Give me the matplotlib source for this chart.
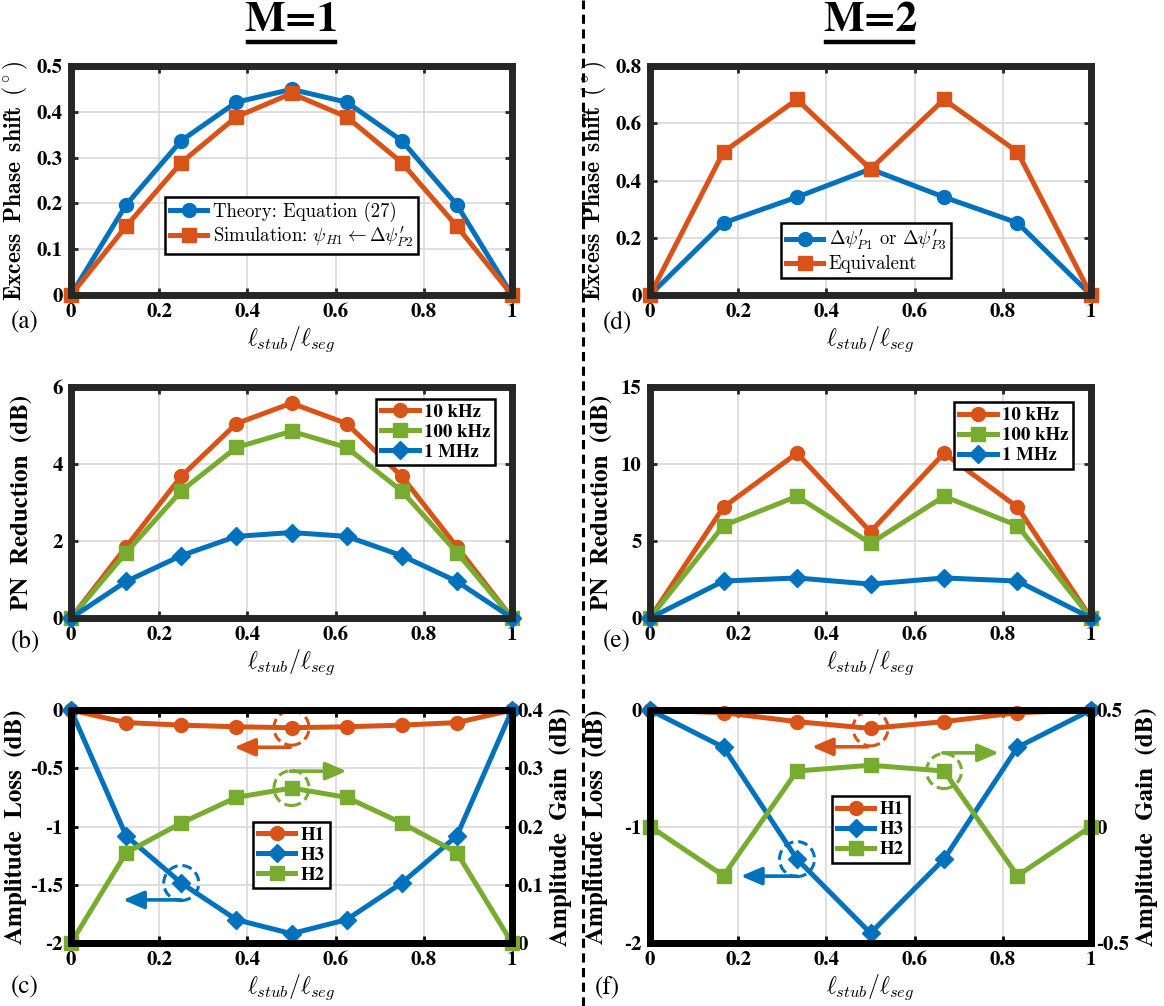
import matplotlib
matplotlib.use('Agg')
import matplotlib.pyplot as plt
from matplotlib.patches import Circle
from matplotlib.lines import Line2D
from matplotlib.transforms import ScaledTranslation

plt.rcParams['font.family'] = ['STIXGeneral', 'DejaVu Serif']
plt.rcParams['mathtext.fontset'] = 'cm'
plt.rcParams['axes.unicode_minus'] = False

BLUE = '#0072BD'
ORANGE = '#D95319'
GREEN = '#77AC30'
FRAME = '#262626'

# ---------------- data ----------------
x_m1 = [0, 0.125, 0.25, 0.375, 0.5, 0.625, 0.75, 0.875, 1]
x_m2 = [0, 0.1667, 0.3333, 0.5, 0.6667, 0.8333, 1]

# (a) excess phase shift, M=1
a_theory = [0, 0.197, 0.337, 0.421, 0.449, 0.421, 0.337, 0.197, 0]
a_sim = [0, 0.150, 0.289, 0.389, 0.440, 0.389, 0.289, 0.150, 0]
# (d) excess phase shift, M=2
d_p1 = [0, 0.252, 0.342, 0.440, 0.342, 0.252, 0]
d_equiv = [0, 0.500, 0.683, 0.440, 0.683, 0.500, 0]

# (b) PN reduction, M=1
b_10k = [0, 1.85, 3.68, 5.05, 5.58, 5.05, 3.68, 1.85, 0]
b_100k = [0, 1.70, 3.30, 4.43, 4.85, 4.43, 3.30, 1.70, 0]
b_1M = [0, 0.95, 1.62, 2.12, 2.22, 2.12, 1.62, 0.95, 0]
# (e) PN reduction, M=2
e_10k = [0, 7.2, 10.7, 5.6, 10.7, 7.2, 0]
e_100k = [0, 6.0, 7.9, 4.85, 7.9, 6.0, 0]
e_1M = [0, 2.4, 2.6, 2.2, 2.6, 2.4, 0]

# (c) amplitude, M=1
c_h1 = [0, -0.108, -0.130, -0.144, -0.152, -0.144, -0.130, -0.108, 0]
c_h3 = [0, -1.08, -1.485, -1.80, -1.92, -1.80, -1.485, -1.08, 0]
c_h2 = [0, 0.155, 0.206, 0.250, 0.266, 0.250, 0.206, 0.155, 0]
# (f) amplitude, M=2
f_h1 = [0, -0.023, -0.100, -0.158, -0.100, -0.023, 0]
f_h3 = [0, -0.32, -1.28, -1.915, -1.28, -0.32, 0]
f_h2 = [0, -0.211, 0.238, 0.263, 0.238, -0.211, 0]

xticks = [0, 0.2, 0.4, 0.6, 0.8, 1]
xticklabels = ['0', '0.2', '0.4', '0.6', '0.8', '1']
xlabel = r'$\ell_{stub}/\ell_{seg}$'

W, H = 1164, 1006
fig = plt.figure(figsize=(W / 100, H / 100), dpi=100)


def pos(l, r, t, b):
    return [l / W, 1 - b / H, (r - l) / W, (b - t) / H]


LW = 3.6
MS = 10
TICKFS = 15
YLFS = 17


def style(ax, frame=FRAME):
    for s in ax.spines.values():
        s.set_linewidth(5)
        s.set_color(frame)
    ax.tick_params(direction='in', top=True, right=True, length=5, width=2,
                   colors=frame, labelcolor='black', labelsize=TICKFS, pad=6)
    ax.grid(True, color='#d9d9d9', lw=1.2)
    ax.set_axisbelow(True)


def setx(ax):
    ax.set_xlim(0, 1)
    ax.set_xticks(xticks)
    ax.set_xticklabels(xticklabels)
    ax.set_xlabel(xlabel, fontsize=17, labelpad=2)


def boldlabels(ax):
    for lab in ax.get_xticklabels() + ax.get_yticklabels():
        lab.set_fontweight('bold')
        lab.set_fontsize(TICKFS)


def leg(ax, handles=None, labels=None, prop=None, **kw):
    if prop is None:
        prop = {'weight': 'bold', 'size': 13.5}
    args = [] if handles is None else [handles, labels]
    L = ax.legend(*args, prop=prop, fancybox=False, framealpha=1, edgecolor='black',
                  handlelength=2.0, handletextpad=0.3, borderpad=0.25,
                  labelspacing=0.15, borderaxespad=0, **kw)
    L.get_frame().set_linewidth(1.8)
    return L


CMPROP = {'family': 'cmr10', 'size': 13.5}
YL_PHASE = r'$\mathbf{Excess\ \,Phase\ \,shift\ \,(^\circ)}$'

# ---------------- (a) ----------------
ax = fig.add_axes(pos(71, 512, 66, 295))
ax.plot(x_m1, a_theory, '-o', color=BLUE, lw=LW, ms=MS, clip_on=False,
        label='Theory: Equation (27)')
ax.plot(x_m1, a_sim, '-s', color=ORANGE, lw=LW, ms=MS, clip_on=False,
        label=r"Simulation: $\psi_{H1} \leftarrow \Delta\psi^{\prime}_{P2}$")
ax.set_ylim(0, 0.5)
ax.set_yticks([0, 0.1, 0.2, 0.3, 0.4, 0.5])
ax.set_yticklabels(['0', '0.1', '0.2', '0.3', '0.4', '0.5'])
setx(ax)
style(ax)
boldlabels(ax)
ax.set_ylabel(YL_PHASE, fontsize=YLFS, labelpad=5)
leg(ax, prop=CMPROP, loc='lower center', bbox_to_anchor=(0.5, 0.18))

# ---------------- (d) ----------------
ax = fig.add_axes(pos(650, 1091, 66, 295))
ax.plot(x_m2, d_p1, '-o', color=BLUE, lw=LW, ms=MS, clip_on=False,
        label=r"$\Delta\psi^{\prime}_{P1}$ or $\Delta\psi^{\prime}_{P3}$")
ax.plot(x_m2, d_equiv, '-s', color=ORANGE, lw=LW, ms=MS, clip_on=False,
        label='Equivalent')
ax.set_ylim(0, 0.8)
ax.set_yticks([0, 0.2, 0.4, 0.6, 0.8])
ax.set_yticklabels(['0', '0.2', '0.4', '0.6', '0.8'])
setx(ax)
style(ax)
boldlabels(ax)
ax.set_ylabel(YL_PHASE, fontsize=YLFS, labelpad=5)
leg(ax, prop=CMPROP, loc='lower center', bbox_to_anchor=(0.49, 0.075))

# ---------------- (b) ----------------
ax = fig.add_axes(pos(71, 512, 387, 618))
ax.plot(x_m1, b_10k, '-o', color=ORANGE, lw=LW, ms=MS, clip_on=False, label='10 kHz')
ax.plot(x_m1, b_100k, '-s', color=GREEN, lw=LW, ms=MS, clip_on=False, label='100 kHz')
ax.plot(x_m1, b_1M, '-D', color=BLUE, lw=LW, ms=MS - 1, clip_on=False, label='1 MHz')
ax.set_ylim(0, 6)
ax.set_yticks([0, 2, 4, 6])
ax.set_yticklabels(['0', '2', '4', '6'])
setx(ax)
style(ax)
boldlabels(ax)
ax.set_ylabel('PN  Reduction  (dB)', fontsize=YLFS + 1, fontweight='bold', labelpad=14)
leg(ax, loc='upper right', bbox_to_anchor=(0.962, 0.948))

# ---------------- (e) ----------------
ax = fig.add_axes(pos(650, 1091, 387, 618))
ax.plot(x_m2, e_10k, '-o', color=ORANGE, lw=LW, ms=MS, clip_on=False, label='10 kHz')
ax.plot(x_m2, e_100k, '-s', color=GREEN, lw=LW, ms=MS, clip_on=False, label='100 kHz')
ax.plot(x_m2, e_1M, '-D', color=BLUE, lw=LW, ms=MS - 1, clip_on=False, label='1 MHz')
ax.set_ylim(0, 15)
ax.set_yticks([0, 5, 10, 15])
ax.set_yticklabels(['0', '5', '10', '15'])
setx(ax)
style(ax)
boldlabels(ax)
ax.set_ylabel('PN  Reduction  (dB)', fontsize=YLFS + 1, fontweight='bold', labelpad=6)
leg(ax, loc='upper right', bbox_to_anchor=(0.96, 0.933))


def dash_circle(ax, x, y, color, r=0.175):
    tr = fig.dpi_scale_trans + ScaledTranslation(x, y, ax.transData)
    c = Circle((0, 0), r, transform=tr, fill=False, ec=color, lw=2.2,
               ls=(0, (3.2, 1.6)), clip_on=False, zorder=10)
    ax.add_patch(c)


def arrow(ax, x0, x1, y, color):
    ax.annotate('', xy=(x1, y), xytext=(x0, y),
                arrowprops=dict(arrowstyle='-|>,head_length=0.7,head_width=0.3',
                                color=color, lw=2.6, shrinkA=0, shrinkB=0,
                                mutation_scale=18),
                zorder=10)


def twin_style(ax2):
    for s in ax2.spines.values():
        s.set_linewidth(5)
        s.set_color('black')
    ax2.tick_params(direction='in', length=5, width=2, labelsize=TICKFS, pad=4)


# ---------------- (c) ----------------
ax = fig.add_axes(pos(71, 512, 710, 943))
ax2 = ax.twinx()
l1, = ax.plot(x_m1, c_h1, '-o', color=ORANGE, lw=LW, ms=MS, clip_on=False)
l3, = ax.plot(x_m1, c_h3, '-D', color=BLUE, lw=LW, ms=MS - 1, clip_on=False)
l2, = ax2.plot(x_m1, c_h2, '-s', color=GREEN, lw=LW, ms=MS, clip_on=False)
ax.set_ylim(-2, 0)
ax.set_yticks([-2, -1.5, -1, -0.5, 0])
ax.set_yticklabels(['-2', '-1.5', '-1', '-0.5', '0'])
ax2.set_ylim(0, 0.4)
ax2.set_yticks([0, 0.1, 0.2, 0.3, 0.4])
ax2.set_yticklabels(['0', '0.1', '0.2', '0.3', '0.4'])
setx(ax)
style(ax, frame='black')
twin_style(ax2)
boldlabels(ax)
boldlabels(ax2)
ax.set_ylabel('Amplitude  Loss  (dB)', fontsize=YLFS + 1, fontweight='bold', labelpad=2)
ax2.set_ylabel('Amplitude  Gain  (dB)', fontsize=YLFS + 1, fontweight='bold', labelpad=4)
leg(ax2, [l1, l3, l2], ['H1', 'H3', 'H2'], loc='lower center', bbox_to_anchor=(0.5, 0.234))
dash_circle(ax, 0.5, c_h1[4], ORANGE)
dash_circle(ax2, 0.5, c_h2[4], GREEN)
dash_circle(ax, 0.25, c_h3[2], BLUE)
arrow(ax, 0.497, 0.37, -0.32, ORANGE)
arrow(ax2, 0.497, 0.625, 0.295, GREEN)
arrow(ax, 0.25, 0.118, -1.63, BLUE)

# ---------------- (f) ----------------
ax = fig.add_axes(pos(650, 1091, 710, 943))
ax2 = ax.twinx()
l1, = ax.plot(x_m2, f_h1, '-o', color=ORANGE, lw=LW, ms=MS, clip_on=False)
l3, = ax.plot(x_m2, f_h3, '-D', color=BLUE, lw=LW, ms=MS - 1, clip_on=False)
l2, = ax2.plot(x_m2, f_h2, '-s', color=GREEN, lw=LW, ms=MS, clip_on=False)
ax.set_ylim(-2, 0)
ax.set_yticks([-2, -1, 0])
ax.set_yticklabels(['-2', '-1', '0'])
ax2.set_ylim(-0.5, 0.5)
ax2.set_yticks([-0.5, 0, 0.5])
ax2.set_yticklabels(['-0.5', '0', '0.5'])
setx(ax)
style(ax, frame='black')
twin_style(ax2)
boldlabels(ax)
boldlabels(ax2)
ax.set_ylabel('Amplitude  Loss  (dB)', fontsize=YLFS + 1, fontweight='bold', labelpad=12)
ax2.set_ylabel('Amplitude  Gain  (dB)', fontsize=YLFS + 1, fontweight='bold', labelpad=4)
leg(ax2, [l1, l3, l2], ['H1', 'H3', 'H2'], loc='lower center', bbox_to_anchor=(0.5, 0.344))
dash_circle(ax, 0.5, f_h1[3], ORANGE)
dash_circle(ax2, 0.6667, f_h2[4], GREEN)
dash_circle(ax, 0.3333, f_h3[2], BLUE)
arrow(ax, 0.494, 0.367, -0.316, ORANGE)
arrow(ax2, 0.664, 0.791, 0.316, GREEN)
arrow(ax, 0.333, 0.206, -1.426, BLUE)

# ---------------- titles, panel labels, divider ----------------
for xc, t in [(291.5, 'M=1'), (870.5, 'M=2')]:
    fig.text(xc / W, 1 - 21 / H, t, ha='center', va='center', fontsize=31,
             fontweight='bold')
fig.add_artist(Line2D([248 / W, 335 / W], [1 - 42 / H, 1 - 42 / H], color='black', lw=3.2))
fig.add_artist(Line2D([826 / W, 913 / W], [1 - 42 / H, 1 - 42 / H], color='black', lw=3.2))

fig.add_artist(Line2D([583 / W, 583 / W], [0, 1], color='black', lw=2.2,
                      ls=(0, (3, 1.8))))

for (xp, yp, t) in [(25, 322, '(a)'), (25, 641, '(b)'), (25, 987, '(c)'),
                    (617, 322, '(d)'), (617, 641, '(e)'), (607, 987, '(f)')]:
    fig.text(xp / W, 1 - yp / H, t, ha='center', va='center', fontsize=18)

fig.savefig('out.png', dpi=100)
